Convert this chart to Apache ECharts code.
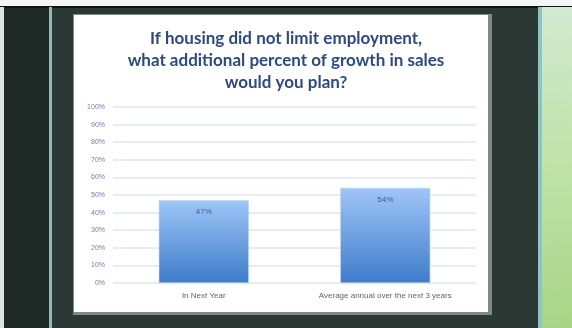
<!DOCTYPE html>
<html>
<head>
<meta charset="utf-8">
<script src="https://cdn.jsdelivr.net/npm/echarts@6/dist/echarts.min.js"></script>
<style>
  html, body { margin: 0; padding: 0; background: #2b3833; }
  #chart { width: 572px; height: 328px; }
</style>
</head>
<body>
<div id="chart"></div>
<script>
// Survey answers: planned extra sales growth if housing were not a constraint
const categories = ['In Next Year', 'Average annual over the next 3 years'];
const growthPercent = [47, 54];
const yTicks = [0, 10, 20, 30, 40, 50, 60, 70, 80, 90, 100];
const titleLines = [
  'If housing did not limit employment,',
  'what additional percent of growth in sales',
  'would you plan?'
];

const chart = echarts.init(document.getElementById('chart'), null, { renderer: 'canvas' });

const barGradient = new echarts.graphic.LinearGradient(0, 0, 0, 1, [
  { offset: 0, color: '#9fc5f8' },
  { offset: 1, color: '#3e7cca' }
]);

chart.setOption({
  backgroundColor: '#2b3833',
  animation: false,
  graphic: [
    // slide frame behind the chart panel
    { type: 'rect', z: -10, shape: { x: 0, y: 0, width: 572, height: 7 }, style: { fill: '#f4f4f4' } },
    { type: 'rect', z: -10, shape: { x: 0, y: 6, width: 572, height: 2 }, style: { fill: '#0e1412' } },
    { type: 'rect', z: -10, shape: { x: 0, y: 7, width: 4, height: 321 }, style: { fill: '#dfe3e1' } },
    { type: 'rect', z: -10, shape: { x: 4, y: 8, width: 45, height: 320 }, style: { fill: '#1f2a26' } },
    { type: 'rect', z: -10, shape: { x: 49, y: 7, width: 3, height: 321 }, style: { fill: '#8fbcb8' } },
    { type: 'rect', z: -10, shape: { x: 538, y: 7, width: 4, height: 321 }, style: { fill: '#8ec4c6' } },
    {
      type: 'rect', z: -10, shape: { x: 542, y: 7, width: 30, height: 321 },
      style: {
        fill: new echarts.graphic.LinearGradient(0, 0, 0.3, 1, [
          { offset: 0, color: '#d2ead0' },
          { offset: 0.5, color: '#c0e2a8' },
          { offset: 1, color: '#a9d486' }
        ])
      }
    },
    // white chart panel with a soft grey edge
    { type: 'rect', z: -5, shape: { x: 73, y: 14, width: 419, height: 301 }, style: { fill: '#7f8986' } },
    { type: 'rect', z: -4, shape: { x: 74, y: 15, width: 414, height: 297 }, style: { fill: '#ffffff' } }
  ],
  title: {
    text: titleLines.join('\n'),
    left: 281,
    top: 23,
    textAlign: 'center',
    textStyle: {
      fontFamily: 'Lato',
      fontWeight: 'bold',
      fontSize: 17,
      lineHeight: 22,
      color: '#2d4a7e'
    }
  },
  grid: { left: 113, right: 96, top: 107, bottom: 45, containLabel: false },
  xAxis: {
    type: 'category',
    data: categories,
    axisLine: { show: false },
    axisTick: { show: false },
    axisLabel: {
      margin: 9,
      fontFamily: 'Liberation Sans',
      fontSize: 8,
      color: '#5f6470'
    }
  },
  yAxis: {
    type: 'value',
    min: yTicks[0],
    max: yTicks[yTicks.length - 1],
    interval: yTicks[1] - yTicks[0],
    axisLine: { show: false },
    axisTick: { show: false },
    splitLine: { lineStyle: { color: '#dde6f2', width: 1.5 } },
    axisLabel: {
      margin: 8,
      fontFamily: 'Liberation Sans',
      fontSize: 7,
      color: '#6d7fa3',
      formatter: v => v + '%'
    }
  },
  series: [{
    type: 'bar',
    data: growthPercent,
    barWidth: 90,
    itemStyle: { color: barGradient, borderColor: '#b7d3f5', borderWidth: 0.6 },
    label: {
      show: true,
      position: 'insideTop',
      distance: 8,
      fontFamily: 'Liberation Sans',
      fontSize: 8,
      color: '#4a5a7a',
      formatter: p => p.value + '%'
    }
  }]
});
</script>
</body>
</html>
